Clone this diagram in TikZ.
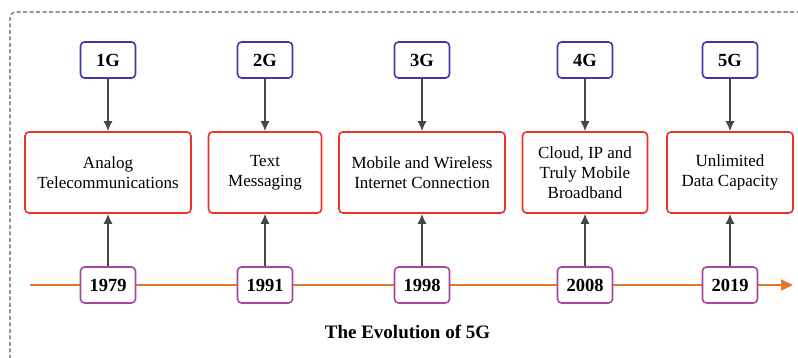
\documentclass[tikz,border=0pt]{standalone}
\usepackage{fontspec}
\setmainfont{Liberation Serif}
\usetikzlibrary{
    arrows.meta,
    positioning,
}
\definecolor{GenBlue}{RGB}{60,58,170}
\definecolor{StageRed}{RGB}{238,48,38}
\definecolor{YearPurple}{RGB}{165,72,160}
\definecolor{LineOrange}{RGB}{228,118,40}
\definecolor{LinkGray}{RGB}{70,70,70}
\tikzstyle{gen}=[draw=GenBlue,rectangle,rounded corners=4pt,line width=1.6pt,fill=white,minimum width=55pt,minimum height=36pt,font=\fontsize{18.5}{20}\selectfont\bfseries]
\tikzstyle{stage}=[draw=StageRed,rectangle,rounded corners=4pt,line width=1.6pt,fill=white,minimum height=81pt,align=center,font=\fontsize{17}{20}\selectfont]
\tikzstyle{year}=[draw=YearPurple,rectangle,rounded corners=4pt,line width=1.6pt,fill=white,minimum width=55pt,minimum height=36pt,font=\fontsize{18.5}{20}\selectfont\bfseries]
\tikzstyle{link}=[draw=LinkGray,line width=1.4pt,-{Latex[length=10pt,width=9pt]}]
\tikzset{
    >=latex
}
\newcommand{\Stage}[6]{%
    \node[stage,minimum width=#3] (#1) at (#2,185.5) {#6};
    \node[gen] (#1 gen) at (#2,298) {#4};
    \node[year] (#1 year) at (#2,73) {#5};
    \draw[link] (#1 gen) -- (#1);
    \draw[link] (#1 year) -- (#1);
}

\begin{document}
\begin{tikzpicture}[x=1pt,y=1pt]
    \clip (0,0) rectangle (798,358);
    \useasboundingbox (0,0) rectangle (798,358);

    % frame
    \draw[draw=black!65,dash pattern=on 4pt off 2.5pt,line width=1.1pt,rounded corners=6pt] (10,-20) rectangle (830,346);

    % timeline
    \coordinate (start) at (30,73);
    \coordinate (end) at (793,73);
    \draw[draw=LineOrange,line width=1.6pt,-{Triangle[length=12pt,width=11pt]}] (start) -- (end);

    % stages
    \Stage{first}{108}{166pt}{1G}{1979}{Analog\\Telecommunications}
    \Stage{second}{265}{113pt}{2G}{1991}{Text\\Messaging}
    \Stage{third}{422}{166pt}{3G}{1998}{Mobile and Wireless\\Internet Connection}
    \Stage{fourth}{585}{125pt}{4G}{2008}{Cloud, IP and\\Truly Mobile\\Broadband}
    \Stage{fifth}{730}{126pt}{5G}{2019}{Unlimited\\Data Capacity}

    \node[font=\fontsize{19}{22}\selectfont\bfseries] (title) at (407.5,26) {The Evolution of 5G};
\end{tikzpicture}
\end{document}
